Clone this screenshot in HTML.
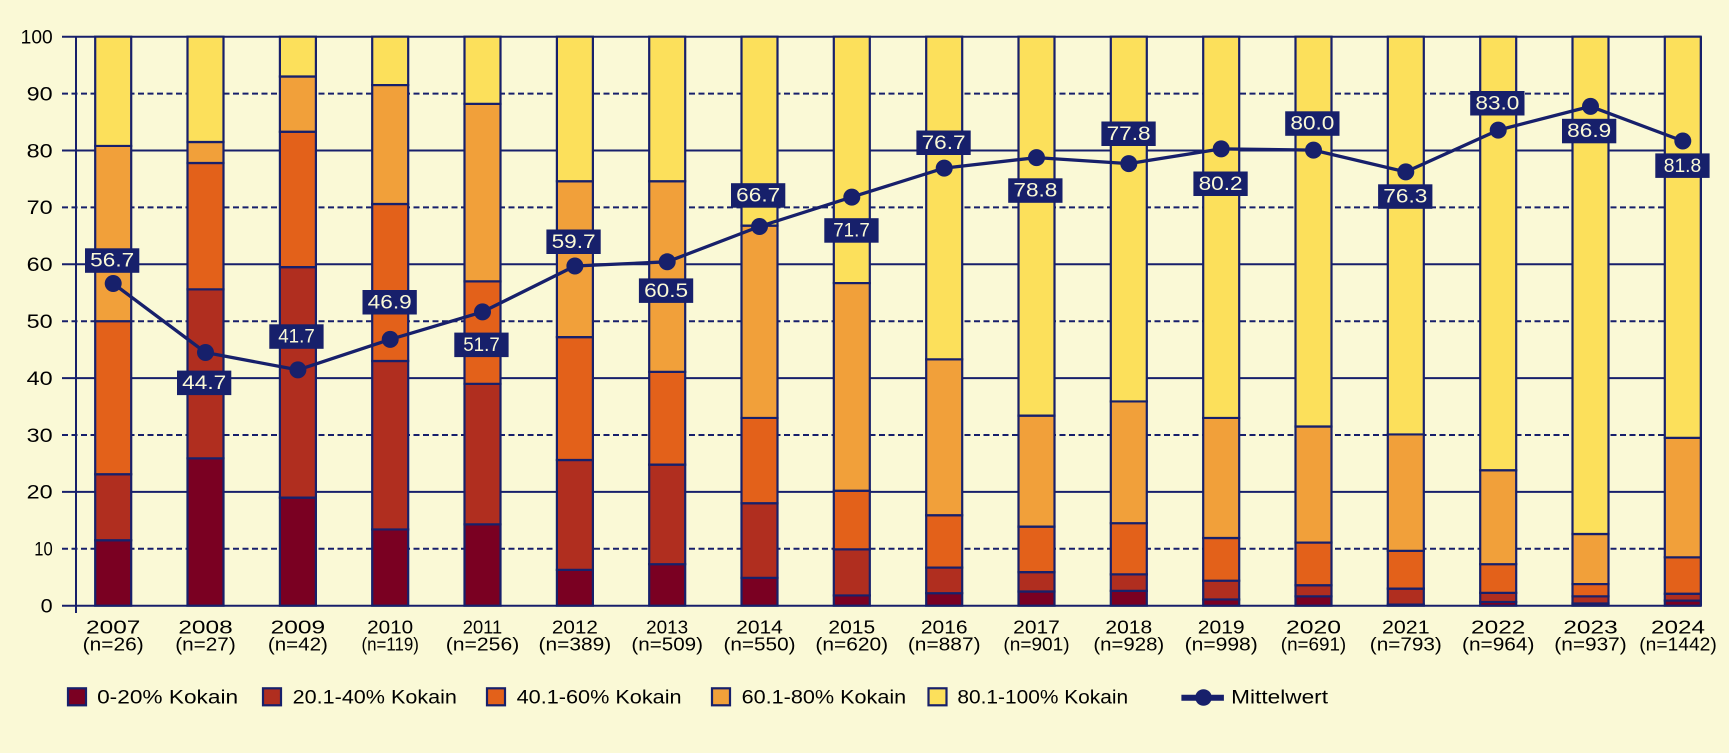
<!DOCTYPE html>
<html>
<head>
<meta charset="utf-8">
<style>
html,body{margin:0;padding:0;background:#FAF9D6;}
svg{display:block;}
text{font-family:"Liberation Sans",sans-serif;}
.bars rect{stroke:#17206B;stroke-width:2.2;vector-effect:non-scaling-stroke;}
.a{fill:#7A0022}.b{fill:#B02E1F}.c{fill:#E3611A}.d{fill:#F1A03A}.e{fill:#FCE05B}
.lbl rect{fill:#17206B}
.lbl text{fill:#FAF9D6;font-size:19px;text-anchor:middle}
.yt{font-size:19px;text-anchor:end;fill:#000}
.xt{font-size:18.5px;text-anchor:middle;fill:#000}
.lg{font-size:19px;fill:#000}
</style>
</head>
<body>
<svg width="1729" height="753" viewBox="0 0 1729 753" xmlns="http://www.w3.org/2000/svg">
<rect x="0" y="0" width="1729" height="753" fill="#FAF9D6"/>

<!-- gridlines -->
<g stroke="#17206B" stroke-width="2">
<line x1="62" y1="36.7" x2="1701" y2="36.7"/>
<line x1="62" y1="93.6" x2="1701" y2="93.6" stroke-dasharray="6 3.5"/>
<line x1="62" y1="150.5" x2="1701" y2="150.5"/>
<line x1="62" y1="207.4" x2="1701" y2="207.4" stroke-dasharray="6 3.5"/>
<line x1="62" y1="264.3" x2="1701" y2="264.3"/>
<line x1="62" y1="321.2" x2="1701" y2="321.2" stroke-dasharray="6 3.5"/>
<line x1="62" y1="378.1" x2="1701" y2="378.1"/>
<line x1="62" y1="435.0" x2="1701" y2="435.0" stroke-dasharray="6 3.5"/>
<line x1="62" y1="491.9" x2="1701" y2="491.9"/>
<line x1="62" y1="548.8" x2="1701" y2="548.8" stroke-dasharray="6 3.5"/>
<line x1="62" y1="605.7" x2="1701" y2="605.7"/>
<line x1="76" y1="36.7" x2="76" y2="613"/>
<line x1="1701" y1="36.7" x2="1701" y2="605.7"/>
</g>

<!-- y tick labels -->
<text class="yt" x="52.7" y="43.5" textLength="32" lengthAdjust="spacingAndGlyphs">100</text>
<text class="yt" x="52.7" y="100.4" textLength="26" lengthAdjust="spacingAndGlyphs">90</text>
<text class="yt" x="52.7" y="157.3" textLength="26" lengthAdjust="spacingAndGlyphs">80</text>
<text class="yt" x="52.7" y="214.2" textLength="26" lengthAdjust="spacingAndGlyphs">70</text>
<text class="yt" x="52.7" y="271.1" textLength="26" lengthAdjust="spacingAndGlyphs">60</text>
<text class="yt" x="52.7" y="328.0" textLength="26" lengthAdjust="spacingAndGlyphs">50</text>
<text class="yt" x="52.7" y="384.9" textLength="26" lengthAdjust="spacingAndGlyphs">40</text>
<text class="yt" x="52.7" y="441.8" textLength="26" lengthAdjust="spacingAndGlyphs">30</text>
<text class="yt" x="52.7" y="498.7" textLength="26" lengthAdjust="spacingAndGlyphs">20</text>
<text class="yt" x="52.7" y="555.6" textLength="18.4" lengthAdjust="spacingAndGlyphs">10</text>
<text class="yt" x="52.7" y="612.5" textLength="12" lengthAdjust="spacingAndGlyphs">0</text>

<!-- bars -->
<g class="bars" transform="translate(0,605.7) scale(1,-5.69)">
<rect x="95.2" y="0" width="36" height="11.5" class="a"/><rect x="95.2" y="11.5" width="36" height="11.6" class="b"/><rect x="95.2" y="23.1" width="36" height="26.9" class="c"/><rect x="95.2" y="50" width="36" height="30.8" class="d"/><rect x="95.2" y="80.8" width="36" height="19.2" class="e"/>
<rect x="187.5" y="0" width="36" height="25.9" class="a"/><rect x="187.5" y="25.9" width="36" height="29.7" class="b"/><rect x="187.5" y="55.6" width="36" height="22.2" class="c"/><rect x="187.5" y="77.8" width="36" height="3.7" class="d"/><rect x="187.5" y="81.5" width="36" height="18.5" class="e"/>
<rect x="279.9" y="0" width="36" height="19" class="a"/><rect x="279.9" y="19" width="36" height="40.5" class="b"/><rect x="279.9" y="59.5" width="36" height="23.8" class="c"/><rect x="279.9" y="83.3" width="36" height="9.7" class="d"/><rect x="279.9" y="93" width="36" height="7" class="e"/>
<rect x="372.2" y="0" width="36" height="13.4" class="a"/><rect x="372.2" y="13.4" width="36" height="29.6" class="b"/><rect x="372.2" y="43" width="36" height="27.6" class="c"/><rect x="372.2" y="70.6" width="36" height="20.9" class="d"/><rect x="372.2" y="91.5" width="36" height="8.5" class="e"/>
<rect x="464.5" y="0" width="36" height="14.3" class="a"/><rect x="464.5" y="14.3" width="36" height="24.7" class="b"/><rect x="464.5" y="39" width="36" height="18" class="c"/><rect x="464.5" y="57" width="36" height="31.2" class="d"/><rect x="464.5" y="88.2" width="36" height="11.8" class="e"/>
<rect x="556.9" y="0" width="36" height="6.3" class="a"/><rect x="556.9" y="6.3" width="36" height="19.3" class="b"/><rect x="556.9" y="25.6" width="36" height="21.6" class="c"/><rect x="556.9" y="47.2" width="36" height="27.4" class="d"/><rect x="556.9" y="74.6" width="36" height="25.4" class="e"/>
<rect x="649.2" y="0" width="36" height="7.3" class="a"/><rect x="649.2" y="7.3" width="36" height="17.5" class="b"/><rect x="649.2" y="24.8" width="36" height="16.3" class="c"/><rect x="649.2" y="41.1" width="36" height="33.5" class="d"/><rect x="649.2" y="74.6" width="36" height="25.4" class="e"/>
<rect x="741.5" y="0" width="36" height="4.9" class="a"/><rect x="741.5" y="4.9" width="36" height="13.1" class="b"/><rect x="741.5" y="18" width="36" height="15" class="c"/><rect x="741.5" y="33" width="36" height="33.8" class="d"/><rect x="741.5" y="66.8" width="36" height="33.2" class="e"/>
<rect x="833.8" y="0" width="36" height="1.8" class="a"/><rect x="833.8" y="1.8" width="36" height="8.1" class="b"/><rect x="833.8" y="9.9" width="36" height="10.3" class="c"/><rect x="833.8" y="20.2" width="36" height="36.5" class="d"/><rect x="833.8" y="56.7" width="36" height="43.3" class="e"/>
<rect x="926.2" y="0" width="36" height="2.2" class="a"/><rect x="926.2" y="2.2" width="36" height="4.5" class="b"/><rect x="926.2" y="6.7" width="36" height="9.2" class="c"/><rect x="926.2" y="15.9" width="36" height="27.4" class="d"/><rect x="926.2" y="43.3" width="36" height="56.7" class="e"/>
<rect x="1018.5" y="0" width="36" height="2.5" class="a"/><rect x="1018.5" y="2.5" width="36" height="3.4" class="b"/><rect x="1018.5" y="5.9" width="36" height="8" class="c"/><rect x="1018.5" y="13.9" width="36" height="19.5" class="d"/><rect x="1018.5" y="33.4" width="36" height="66.6" class="e"/>
<rect x="1110.8" y="0" width="36" height="2.6" class="a"/><rect x="1110.8" y="2.6" width="36" height="2.9" class="b"/><rect x="1110.8" y="5.5" width="36" height="9" class="c"/><rect x="1110.8" y="14.5" width="36" height="21.4" class="d"/><rect x="1110.8" y="35.9" width="36" height="64.1" class="e"/>
<rect x="1203.2" y="0" width="36" height="1.1" class="a"/><rect x="1203.2" y="1.1" width="36" height="3.3" class="b"/><rect x="1203.2" y="4.4" width="36" height="7.5" class="c"/><rect x="1203.2" y="11.9" width="36" height="21.1" class="d"/><rect x="1203.2" y="33" width="36" height="67" class="e"/>
<rect x="1295.5" y="0" width="36" height="1.65" class="a"/><rect x="1295.5" y="1.65" width="36" height="1.95" class="b"/><rect x="1295.5" y="3.6" width="36" height="7.5" class="c"/><rect x="1295.5" y="11.1" width="36" height="20.4" class="d"/><rect x="1295.5" y="31.5" width="36" height="68.5" class="e"/>
<rect x="1387.8" y="0" width="36" height="0.2" class="a"/><rect x="1387.8" y="0.2" width="36" height="2.8" class="b"/><rect x="1387.8" y="3" width="36" height="6.65" class="c"/><rect x="1387.8" y="9.65" width="36" height="20.45" class="d"/><rect x="1387.8" y="30.1" width="36" height="69.9" class="e"/>
<rect x="1480.2" y="0" width="36" height="0.66" class="a"/><rect x="1480.2" y="0.66" width="36" height="1.59" class="b"/><rect x="1480.2" y="2.25" width="36" height="5.05" class="c"/><rect x="1480.2" y="7.3" width="36" height="16.5" class="d"/><rect x="1480.2" y="23.8" width="36" height="76.2" class="e"/>
<rect x="1572.5" y="0" width="36" height="0.4" class="a"/><rect x="1572.5" y="0.4" width="36" height="1.25" class="b"/><rect x="1572.5" y="1.65" width="36" height="2.15" class="c"/><rect x="1572.5" y="3.8" width="36" height="8.8" class="d"/><rect x="1572.5" y="12.6" width="36" height="87.4" class="e"/>
<rect x="1664.8" y="0" width="36" height="0.9" class="a"/><rect x="1664.8" y="0.9" width="36" height="1.2" class="b"/><rect x="1664.8" y="2.1" width="36" height="6.4" class="c"/><rect x="1664.8" y="8.5" width="36" height="21" class="d"/><rect x="1664.8" y="29.5" width="36" height="70.5" class="e"/>
</g>

<!-- mean line -->
<polyline fill="none" stroke="#17206B" stroke-width="3.3" stroke-linejoin="round" points="113.2,283.5 205.5,352.5 297.9,369.9 390.2,339.4 482.5,311.9 574.9,266 667.2,261.8 759.5,226.5 851.8,197.1 944.2,168.1 1036.5,157.6 1128.8,163.6 1221.2,148.9 1313.5,150.1 1405.8,171.9 1498.2,130.1 1590.5,106.4 1682.8,141"/>
<g fill="#17206B">
<circle cx="113.2" cy="283.5" r="8.5"/><circle cx="205.5" cy="352.5" r="8.5"/><circle cx="297.9" cy="369.9" r="8.5"/><circle cx="390.2" cy="339.4" r="8.5"/><circle cx="482.5" cy="311.9" r="8.5"/><circle cx="574.9" cy="266" r="8.5"/><circle cx="667.2" cy="261.8" r="8.5"/><circle cx="759.5" cy="226.5" r="8.5"/><circle cx="851.8" cy="197.1" r="8.5"/><circle cx="944.2" cy="168.1" r="8.5"/><circle cx="1036.5" cy="157.6" r="8.5"/><circle cx="1128.8" cy="163.6" r="8.5"/><circle cx="1221.2" cy="148.9" r="8.5"/><circle cx="1313.5" cy="150.1" r="8.5"/><circle cx="1405.8" cy="171.9" r="8.5"/><circle cx="1498.2" cy="130.1" r="8.5"/><circle cx="1590.5" cy="106.4" r="8.5"/><circle cx="1682.8" cy="141" r="8.5"/>
</g>

<!-- value labels -->
<g class="lbl">
<rect x="85" y="248.3" width="54.3" height="24.5"/><text x="112.2" y="266.7" textLength="44" lengthAdjust="spacingAndGlyphs">56.7</text>
<rect x="177" y="370.6" width="54.3" height="24.5"/><text x="204.2" y="389" textLength="44" lengthAdjust="spacingAndGlyphs">44.7</text>
<rect x="269.3" y="324.3" width="54.3" height="24.5"/><text x="296.5" y="342.7" textLength="36.5" lengthAdjust="spacingAndGlyphs">41.7</text>
<rect x="362.5" y="290" width="54.3" height="24.5"/><text x="389.7" y="308.4" textLength="44" lengthAdjust="spacingAndGlyphs">46.9</text>
<rect x="454.3" y="332.6" width="54.3" height="24.5"/><text x="481.5" y="351" textLength="36.5" lengthAdjust="spacingAndGlyphs">51.7</text>
<rect x="546.4" y="229.5" width="54.3" height="24.5"/><text x="573.6" y="247.9" textLength="44" lengthAdjust="spacingAndGlyphs">59.7</text>
<rect x="638.9" y="278.4" width="54.3" height="24.5"/><text x="666.1" y="296.8" textLength="44" lengthAdjust="spacingAndGlyphs">60.5</text>
<rect x="731" y="183.2" width="54.3" height="24.5"/><text x="758.2" y="201.6" textLength="44" lengthAdjust="spacingAndGlyphs">66.7</text>
<rect x="824.3" y="218.2" width="54.3" height="24.5"/><text x="851.5" y="236.6" textLength="36.5" lengthAdjust="spacingAndGlyphs">71.7</text>
<rect x="916.4" y="130.5" width="54.3" height="24.5"/><text x="943.6" y="148.9" textLength="44" lengthAdjust="spacingAndGlyphs">76.7</text>
<rect x="1008.2" y="178.3" width="54.3" height="24.5"/><text x="1035.4" y="196.7" textLength="44" lengthAdjust="spacingAndGlyphs">78.8</text>
<rect x="1101.4" y="121.5" width="54.3" height="24.5"/><text x="1128.6" y="139.9" textLength="44" lengthAdjust="spacingAndGlyphs">77.8</text>
<rect x="1193.4" y="171.5" width="54.3" height="24.5"/><text x="1220.6" y="189.9" textLength="44" lengthAdjust="spacingAndGlyphs">80.2</text>
<rect x="1285.2" y="111.3" width="54.3" height="24.5"/><text x="1312.4" y="129.7" textLength="44" lengthAdjust="spacingAndGlyphs">80.0</text>
<rect x="1378.1" y="184.3" width="54.3" height="24.5"/><text x="1405.3" y="202.7" textLength="44" lengthAdjust="spacingAndGlyphs">76.3</text>
<rect x="1470.2" y="91" width="54.3" height="24.5"/><text x="1497.4" y="109.4" textLength="44" lengthAdjust="spacingAndGlyphs">83.0</text>
<rect x="1562" y="118.8" width="54.3" height="24.5"/><text x="1589.2" y="137.2" textLength="44" lengthAdjust="spacingAndGlyphs">86.9</text>
<rect x="1655.3" y="153.4" width="54.3" height="24.5"/><text x="1682.5" y="171.8" textLength="37.4" lengthAdjust="spacingAndGlyphs">81.8</text>
</g>

<!-- x labels -->
<g class="xt">
<text x="113.2" y="633.3" textLength="54.3" lengthAdjust="spacingAndGlyphs">2007</text>
<text x="113.2" y="650.5" textLength="61" lengthAdjust="spacingAndGlyphs">(n=26)</text>
<text x="205.5" y="633.3" textLength="54.3" lengthAdjust="spacingAndGlyphs">2008</text>
<text x="205.5" y="650.5" textLength="60.5" lengthAdjust="spacingAndGlyphs">(n=27)</text>
<text x="297.9" y="633.3" textLength="54.5" lengthAdjust="spacingAndGlyphs">2009</text>
<text x="297.9" y="650.5" textLength="60" lengthAdjust="spacingAndGlyphs">(n=42)</text>
<text x="390.2" y="633.3" textLength="46" lengthAdjust="spacingAndGlyphs">2010</text>
<text x="390.2" y="650.5" textLength="57.4" lengthAdjust="spacingAndGlyphs">(n=119)</text>
<text x="482.5" y="633.3" textLength="39.4" lengthAdjust="spacingAndGlyphs">2011</text>
<text x="482.5" y="650.5" textLength="73.5" lengthAdjust="spacingAndGlyphs">(n=256)</text>
<text x="574.9" y="633.3" textLength="46" lengthAdjust="spacingAndGlyphs">2012</text>
<text x="574.9" y="650.5" textLength="72.7" lengthAdjust="spacingAndGlyphs">(n=389)</text>
<text x="667.2" y="633.3" textLength="42" lengthAdjust="spacingAndGlyphs">2013</text>
<text x="667.2" y="650.5" textLength="71.6" lengthAdjust="spacingAndGlyphs">(n=509)</text>
<text x="759.5" y="633.3" textLength="46.7" lengthAdjust="spacingAndGlyphs">2014</text>
<text x="759.5" y="650.5" textLength="72" lengthAdjust="spacingAndGlyphs">(n=550)</text>
<text x="851.8" y="633.3" textLength="46.7" lengthAdjust="spacingAndGlyphs">2015</text>
<text x="851.8" y="650.5" textLength="72.7" lengthAdjust="spacingAndGlyphs">(n=620)</text>
<text x="944.2" y="633.3" textLength="46.7" lengthAdjust="spacingAndGlyphs">2016</text>
<text x="944.2" y="650.5" textLength="72.7" lengthAdjust="spacingAndGlyphs">(n=887)</text>
<text x="1036.5" y="633.3" textLength="46.7" lengthAdjust="spacingAndGlyphs">2017</text>
<text x="1036.5" y="650.5" textLength="66.2" lengthAdjust="spacingAndGlyphs">(n=901)</text>
<text x="1128.8" y="633.3" textLength="46.7" lengthAdjust="spacingAndGlyphs">2018</text>
<text x="1128.8" y="650.5" textLength="70.8" lengthAdjust="spacingAndGlyphs">(n=928)</text>
<text x="1221.2" y="633.3" textLength="46.9" lengthAdjust="spacingAndGlyphs">2019</text>
<text x="1221.2" y="650.5" textLength="73.1" lengthAdjust="spacingAndGlyphs">(n=998)</text>
<text x="1313.5" y="633.3" textLength="55" lengthAdjust="spacingAndGlyphs">2020</text>
<text x="1313.5" y="650.5" textLength="65.4" lengthAdjust="spacingAndGlyphs">(n=691)</text>
<text x="1405.8" y="633.3" textLength="47.6" lengthAdjust="spacingAndGlyphs">2021</text>
<text x="1405.8" y="650.5" textLength="72" lengthAdjust="spacingAndGlyphs">(n=793)</text>
<text x="1498.2" y="633.3" textLength="54.3" lengthAdjust="spacingAndGlyphs">2022</text>
<text x="1498.2" y="650.5" textLength="72.4" lengthAdjust="spacingAndGlyphs">(n=964)</text>
<text x="1590.5" y="633.3" textLength="54.3" lengthAdjust="spacingAndGlyphs">2023</text>
<text x="1590.5" y="650.5" textLength="72.4" lengthAdjust="spacingAndGlyphs">(n=937)</text>
<text x="1678" y="633.3" textLength="54" lengthAdjust="spacingAndGlyphs">2024</text>
<text x="1678" y="650.5" textLength="77.5" lengthAdjust="spacingAndGlyphs">(n=1442)</text>
</g>

<!-- legend -->
<g stroke="#17206B" stroke-width="2.2">
<rect x="68" y="688.3" width="18" height="17" class="a"/>
<rect x="263" y="688.3" width="18" height="17" class="b"/>
<rect x="487" y="688.3" width="18" height="17" class="c"/>
<rect x="712" y="688.3" width="18" height="17" class="d"/>
<rect x="928.5" y="688.3" width="18" height="17" class="e"/>
</g>
<text class="lg" x="97.1" y="703.3" textLength="141" lengthAdjust="spacingAndGlyphs">0-20% Kokain</text>
<text class="lg" x="292.7" y="703.3" textLength="164.2" lengthAdjust="spacingAndGlyphs">20.1-40% Kokain</text>
<text class="lg" x="516.6" y="703.3" textLength="165" lengthAdjust="spacingAndGlyphs">40.1-60% Kokain</text>
<text class="lg" x="741.6" y="703.3" textLength="164.6" lengthAdjust="spacingAndGlyphs">60.1-80% Kokain</text>
<text class="lg" x="957.4" y="703.3" textLength="170.7" lengthAdjust="spacingAndGlyphs">80.1-100% Kokain</text>
<line x1="1181.4" y1="697.7" x2="1223.9" y2="697.7" stroke="#17206B" stroke-width="6"/>
<circle cx="1203.5" cy="697.5" r="8.3" fill="#17206B"/>
<text class="lg" x="1231.2" y="703.3" textLength="96.8" lengthAdjust="spacingAndGlyphs">Mittelwert</text>
</svg>
</body>
</html>
